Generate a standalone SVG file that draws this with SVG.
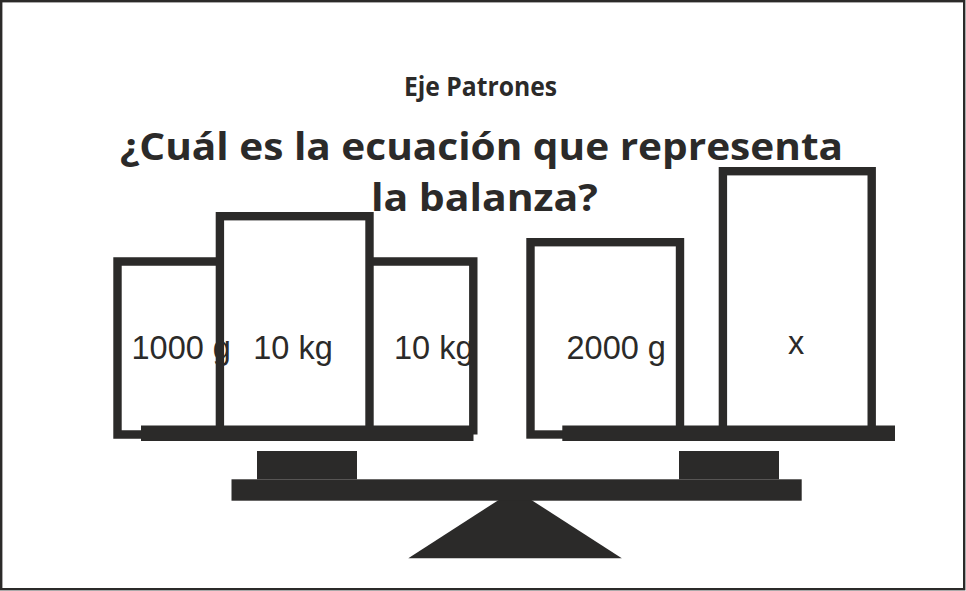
<svg xmlns="http://www.w3.org/2000/svg" width="966" height="591" viewBox="0 0 966 591">
<style>
.frame{fill:#fff;stroke:#2b2a29;stroke-width:2.4}
.box{fill:none;stroke:#2b2a29;stroke-width:8.4;stroke-linejoin:miter}
.solid{fill:#2b2a29}
.title{font-family:"Open Sans","Noto Sans",sans-serif;font-weight:bold;fill:#2b2a29}
.lbl{font-family:"Liberation Sans",Arial,sans-serif;font-size:32.5px;fill:#2b2a29}
</style>
<rect class="frame" x="1.2" y="1.2" width="963" height="588"/>
<g id="titles">
<text class="title" x="480.5" y="96" font-size="26.5" text-anchor="middle" textLength="153" lengthAdjust="spacingAndGlyphs">Eje Patrones</text>
<text class="title" x="481.5" y="160" font-size="37.5" text-anchor="middle" textLength="723" lengthAdjust="spacingAndGlyphs">¿Cuál es la ecuación que representa</text>
<text class="title" x="484.4" y="211" font-size="37.5" text-anchor="middle" textLength="227" lengthAdjust="spacingAndGlyphs">la balanza?</text>
</g>
<g id="balance">
<polygon class="solid" points="408.3,558.3 621.8,558.3 515,489.4"/>
<rect class="solid" x="231.5" y="479.3" width="570.2" height="21.4"/>
<rect class="solid" x="257" y="451" width="100" height="28.3"/>
<rect class="solid" x="679" y="451" width="100" height="28.3"/>
</g>
<g id="left-pan">
<g id="w1000g">
<text class="lbl" x="131.5" y="359">1000 g</text>
<path class="box" d="M219.9,261.5 H117.5 V434.5 H145"/>
</g>
<g id="w10kg-a">
<text class="lbl" x="253.3" y="359">10 kg</text>
<rect class="box" x="219.9" y="216.2" width="149.6" height="216"/>
</g>
<g id="w10kg-b">
<text class="lbl" x="394" y="359">10 kg</text>
<path class="box" d="M369.5,261.5 H473.3 V434.5"/>
</g>
<rect class="solid" x="141" y="425.5" width="332.5" height="15.5"/>
</g>
<g id="right-pan">
<g id="w2000g">
<text class="lbl" x="566.5" y="359">2000 g</text>
<rect class="box" x="530.5" y="242.2" width="149.5" height="192.3"/>
</g>
<g id="wx">
<text class="lbl" x="796" y="354" text-anchor="middle">x</text>
<rect class="box" x="722.9" y="171.2" width="148.8" height="260"/>
</g>
<rect class="solid" x="562.3" y="425.5" width="332.7" height="15.5"/>
</g>
<g id="connectors"/>
</svg>
